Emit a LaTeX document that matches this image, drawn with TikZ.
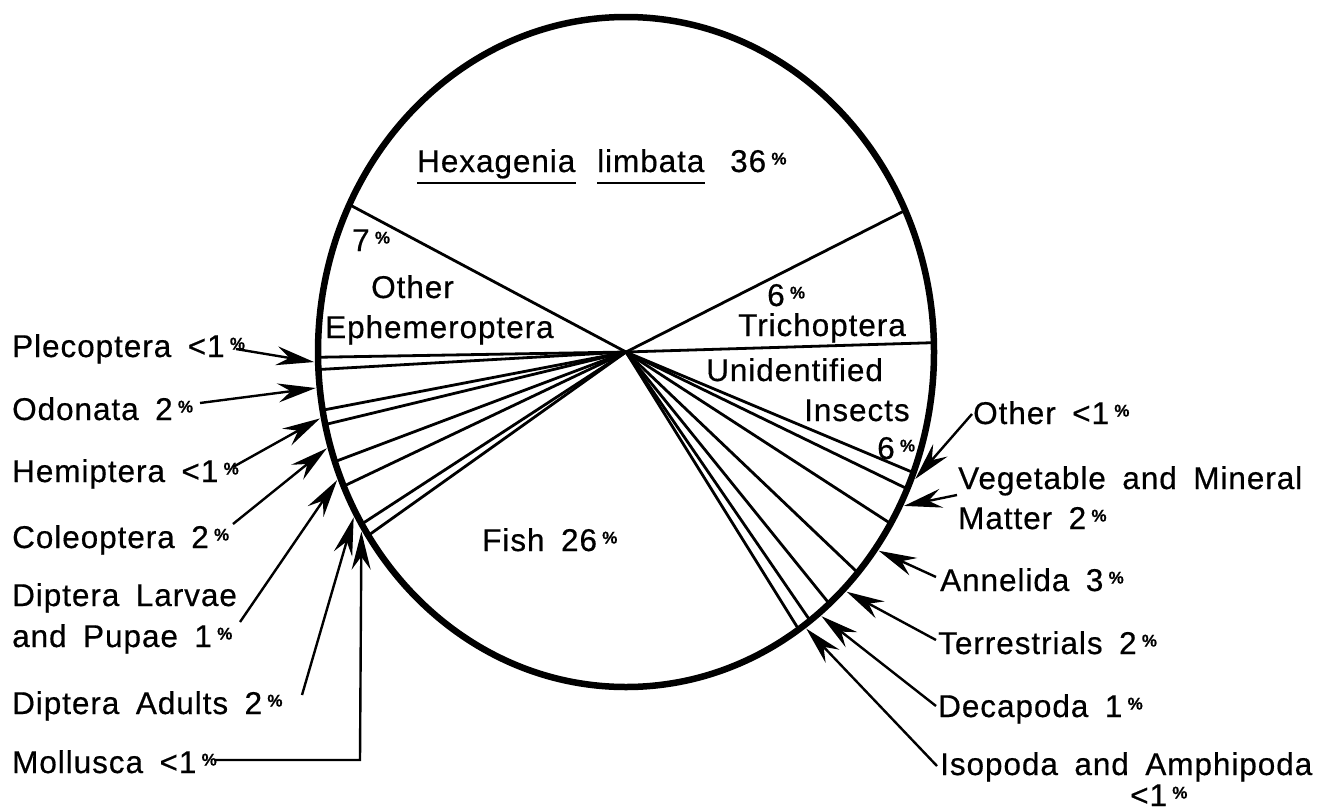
\documentclass[tikz,border=0pt]{standalone}
\usepackage{fontspec}
\setmainfont{Liberation Sans}[LetterSpace=3, WordSpace=1.7, FakeBold=0.5]
\usetikzlibrary{arrows.meta}
\newcommand{\pct}{\,\raisebox{7.5pt}{\fontsize{17}{17}\selectfont\bfseries\%}}
\begin{document}
\begin{tikzpicture}[x=1pt,y=-1pt,
  lbl/.style={anchor=base west, inner sep=0pt, font=\fontsize{31.5}{36}\selectfont},
  pie/.style={line width=6.5pt},
  rad/.style={line width=2.8pt},
  tipshape/.tip={Stealth[length=38pt,width=19pt,inset=13pt]},
  arr/.style={line width=2.4pt, -tipshape},
  uline/.style={line width=2.4pt}]
\useasboundingbox (0,0) rectangle (1338,811);
\coordinate (C) at (626,352);
% pie outline
\draw[pie] (C) ellipse [x radius=308pt, y radius=335pt];
% slice boundaries on the pie edge
\foreach \n/\a in {hexL/206.1, hexR/335, triU/358.4,
  b1/179.1, b2/177.0, b3/170.0, b4/167.5, b5/160.9, b6/156.4, b7/149.1, b8/146.8,
  r1/21.1, r2/24.1, r3/30.8, r4/41.2, r5/48.7, r6/53.3, r7/55.9}
  \coordinate (\n) at ({626+308*cos(\a)},{352+335*sin(\a)});
\foreach \n in {hexL,hexR,triU,b1,b2,b3,b4,b5,b6,b7,b8,r1,r2,r3,r4,r5,r6,r7}
  \draw[rad] (C) -- (\n);
% arrow tips on the outer edge
\foreach \n/\a in {plecT/178.3, odoT/173.9, hemiT/168.7, coleT/163.5, larvT/157.8,
  adultT/150.8, mollT/148.0, otherT/22.0, vegT/27.0, annT/35.9, terT/45.0,
  decT/51.2, isoT/54.7}
  \coordinate (\n) at ({626+312*cos(\a)},{352+339*sin(\a)});
% labels inside the pie
\node[lbl] (hex) at (417,172) {Hexagenia};
\node[lbl] (limb) at (597,172) {limbata};
\node[lbl] (hexp) at (730,172) {36\pct};
\draw[uline] ([yshift=-11pt]hex.base west) -- ([yshift=-11pt]hex.base east);
\draw[uline] ([yshift=-11pt]limb.base west) -- ([yshift=-11pt]limb.base east);
\node[lbl] (ephp) at (352,251) {7\pct};
\node[lbl] (eph1) at (371,298) {Other};
\node[lbl] (eph2) at (325,338) {Ephemeroptera};
\node[lbl] (trip) at (767,306) {6\pct};
\node[lbl] (tri) at (738,336) {Trichoptera};
\node[lbl] (uni1) at (706,381) {Unidentified};
\node[lbl] (uni2) at (804,421) {Insects};
\node[lbl] (unip) at (877,459) {6\pct};
\node[lbl] (fish) at (482,551) {Fish 26\pct};
% left labels
\node[lbl] (plec) at (12,357) {Plecoptera <1\pct};
\node[lbl] (odo) at (12,420) {Odonata 2\pct};
\node[lbl] (hemi) at (12,482) {Hemiptera <1\pct};
\node[lbl] (cole) at (12,548) {Coleoptera 2\pct};
\node[lbl] (larv1) at (12,606) {Diptera Larvae};
\node[lbl] (larv2) at (12,647) {and Pupae 1\pct};
\node[lbl] (adult) at (12,714) {Diptera Adults 2\pct};
\node[lbl] (moll) at (12,773) {Mollusca <1\pct};
% right labels
\node[lbl] (other) at (973,424) {Other <1\pct};
\node[lbl] (veg1) at (958,489) {Vegetable and Mineral};
\node[lbl] (veg2) at (958,529) {Matter 2\pct};
\node[lbl] (ann) at (940,591) {Annelida 3\pct};
\node[lbl] (ter) at (938,654) {Terrestrials 2\pct};
\node[lbl] (dec) at (938,717) {Decapoda 1\pct};
\node[lbl] (iso1) at (940,775) {Isopoda and Amphipoda};
\node[lbl] (iso2) at (1130,806) {<1\pct};
% arrow starts
\coordinate (plecS) at (236,349);
\coordinate (odoS) at (200,403);
\coordinate (hemiS) at (233,467);
\coordinate (coleS) at (233,524);
\coordinate (larvS) at (240,622);
\coordinate (adultS) at (302,695);
\coordinate (mollS) at (214,760);
\coordinate (mollK) at (360,760);
\coordinate (otherS) at (972,414);
\coordinate (vegS) at (957,495);
\coordinate (annS) at (936,577);
\coordinate (terS) at (936,640);
\coordinate (decS) at (936,706);
\coordinate (isoS) at (937,766);
% arrows
\draw[arr] (plecS) -- (plecT);
\draw[arr] (odoS) -- (odoT);
\draw[arr] (hemiS) -- (hemiT);
\draw[arr] (coleS) -- (coleT);
\draw[arr] (larvS) -- (larvT);
\draw[arr] (adultS) -- (adultT);
\draw[arr] (mollS) -- (mollK) -- (mollT);
\draw[arr] (otherS) -- (otherT);
\draw[arr] (vegS) -- (vegT);
\draw[arr] (annS) -- (annT);
\draw[arr] (terS) -- (terT);
\draw[arr] (decS) -- (decT);
\draw[arr] (isoS) -- (isoT);
\end{tikzpicture}
\end{document}
